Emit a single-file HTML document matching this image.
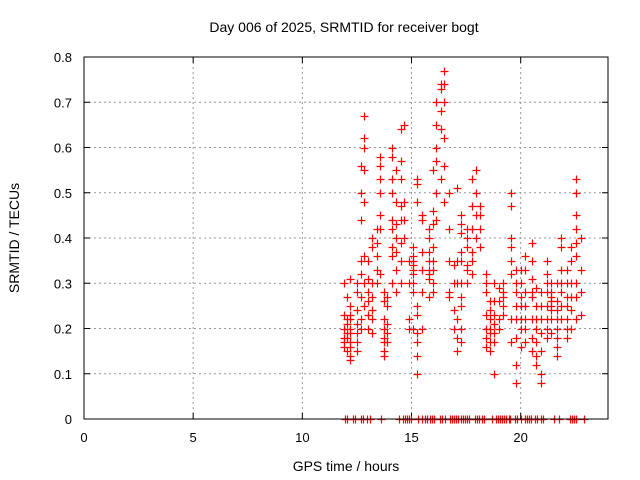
<!DOCTYPE html>
<html><head><meta charset="utf-8"><style>
body{margin:0;background:#fff}
svg{display:block;font-family:"Liberation Sans",sans-serif}
</style></head><body>
<svg id="chart" width="640" height="480">
<text x="344" y="32" text-anchor="middle" font-size="14">Day 006 of 2025, SRMTID for receiver bogt</text>
<text x="346" y="471" text-anchor="middle" font-size="14">GPS time / hours</text>
<text transform="translate(19,238) rotate(-90)" text-anchor="middle" font-size="14">SRMTID / TECUs</text>
<g id="grid"></g>
<g id="ticks"></g>
<g id="marks"></g>
<rect x="84" y="57" width="524" height="362" fill="none" stroke="#000" stroke-width="1"/>
</svg>
<script>
const xTicks = [0, 5, 10, 15, 20];
const yTicks = [0, 0.1, 0.2, 0.3, 0.4, 0.5, 0.6, 0.7, 0.8];
const yTickLabels = ["0", "0.1", "0.2", "0.3", "0.4", "0.5", "0.6", "0.7", "0.8"];
const hours = [11.92,12.05,12.2,12.5,12.7,12.83,13.0,13.2,13.4,13.55,13.75,13.9,14.1,14.3,14.5,14.65,14.9,15.05,15.25,15.5,15.8,16.0,16.1,16.35,16.5,16.7,16.95,17.1,17.25,17.55,17.75,17.95,18.15,18.4,18.6,18.8,19.0,19.2,19.55,19.8,20.0,20.2,20.5,20.7,20.95,21.2,21.4,21.65,21.85,22.1,22.3,22.55,22.75];
const values = [
[0.30,0.23,0.2,0.18,0.17,0.16],
[0.27,0.22,0.21,0.19,0.18,0.15],
[0.31,0.25,0.22,0.2,0.17,0.14,0.13,0.16,0.19,0.23],
[0.3,0.28,0.24,0.21,0.19,0.17,0.15],
[0.56,0.5,0.44,0.35,0.32,0.27,0.22,0.2],
[0.67,0.62,0.6,0.55,0.48,0.36,0.3,0.25],
[0.35,0.31,0.28,0.26,0.23,0.2],
[0.4,0.38,0.3,0.27,0.24,0.22,0.19],
[0.42,0.39,0.36,0.33,0.3],
[0.58,0.56,0.53,0.5,0.45,0.42,0.32],
[0.28,0.26,0.22,0.2,0.18,0.17,0.15,0.14],
[0.27,0.25,0.21,0.19,0.17],
[0.6,0.58,0.53,0.5,0.44,0.42,0.38,0.36,0.3],
[0.55,0.48,0.43,0.4,0.37,0.33,0.28],
[0.64,0.57,0.53,0.47,0.44,0.39,0.35,0.3],
[0.65,0.48,0.44,0.4],
[0.35,0.3,0.22,0.2],
[0.38,0.36,0.35,0.34,0.33,0.32,0.3,0.28,0.2],
[0.53,0.52,0.48,0.25,0.23,0.19,0.17,0.1,0.14],
[0.45,0.44,0.37,0.33,0.28,0.2],
[0.42,0.4,0.37,0.35,0.32,0.33,0.31,0.27],
[0.55,0.46,0.43,0.38,0.35,0.33,0.3,0.28],
[0.7,0.65,0.6,0.57,0.5,0.44],
[0.74,0.73,0.68,0.64,0.53],
[0.77,0.74,0.7,0.62,0.56,0.48],
[0.5,0.42,0.35,0.28,0.27],
[0.34,0.3,0.24,0.2],
[0.51,0.35,0.3,0.22,0.18,0.15],
[0.45,0.43,0.41,0.37,0.35,0.3,0.27,0.25,0.2,0.17],
[0.42,0.4,0.38,0.34,0.33,0.3],
[0.53,0.47,0.42,0.37,0.35,0.32],
[0.55,0.5,0.45,0.4],
[0.47,0.45,0.42,0.38],
[0.32,0.3,0.28,0.23,0.2,0.18,0.16],
[0.26,0.24,0.22,0.2,0.19,0.17,0.15],
[0.3,0.26,0.23,0.21,0.19,0.17,0.1],
[0.29,0.26,0.22,0.2],
[0.3,0.28,0.27,0.25,0.23],
[0.5,0.47,0.4,0.38,0.35,0.32,0.22,0.17],
[0.33,0.3,0.28,0.25,0.22,0.18,0.12,0.08],
[0.33,0.3,0.27,0.25,0.22,0.2,0.16],
[0.36,0.33,0.28,0.25,0.22,0.2,0.17],
[0.39,0.35,0.31,0.28,0.27,0.22,0.18,0.15],
[0.29,0.25,0.22,0.2,0.17,0.14,0.12],
[0.28,0.25,0.22,0.19,0.15,0.1,0.08],
[0.35,0.32,0.3,0.28,0.25,0.22,0.2,0.18],
[0.3,0.28,0.27,0.26,0.25,0.24,0.22,0.19],
[0.3,0.26,0.24,0.22,0.2,0.18,0.16,0.14],
[0.4,0.38,0.33,0.3,0.28,0.25,0.22],
[0.33,0.3,0.27,0.25,0.22,0.2,0.18],
[0.38,0.35,0.3,0.27,0.24,0.2],
[0.53,0.5,0.45,0.42,0.39,0.36,0.3,0.27,0.22],
[0.4,0.33,0.28,0.23]
];
const zeroHours = [11.95,12.05,12.3,12.4,12.69,12.78,12.98,13.08,13.62,14.43,14.6,14.7,14.8,14.9,14.98,15.3,15.5,15.6,15.7,15.85,15.95,16.05,16.3,16.38,16.52,16.75,16.85,16.95,17.05,17.15,17.25,17.35,17.45,17.55,17.63,17.9,18.0,18.1,18.22,18.32,18.69,18.85,18.95,19.05,19.15,19.25,19.35,19.45,19.52,19.75,19.85,20.02,20.2,20.29,20.38,20.47,20.66,20.75,20.93,21.02,21.53,21.76,22.25,22.35,22.45,22.52,22.92];

const NS = "http://www.w3.org/2000/svg";
const X0 = 84, X1 = 608, Y0 = 419, Y1 = 57;
function xs(h){ return X0 + h * (X1 - X0) / 24; }
function ys(v){ return Y0 - v * (Y0 - Y1) / 0.8; }
function mk(tag, attrs, parent){ const e = document.createElementNS(NS, tag); for (const k in attrs) e.setAttribute(k, attrs[k]); parent.appendChild(e); return e; }
const grid = document.getElementById('grid'), ticks = document.getElementById('ticks'), marks = document.getElementById('marks');

xTicks.forEach(t => {
  const x = xs(t);
  if (t > 0) {
    const g = mk('line', {x1:x, y1:Y1, x2:x, y2:Y0, stroke:'#999', 'stroke-dasharray':'2,3'}, grid);
    
    
  }
  mk('line', {x1:x, y1:Y0, x2:x, y2:Y0-6, stroke:'#000'}, ticks);
  mk('line', {x1:x, y1:Y1, x2:x, y2:Y1+6, stroke:'#000'}, ticks);
  const lb = mk('text', {x:x, y:442, 'text-anchor':'middle', 'font-size':'13'}, ticks);
  lb.textContent = t;
  
  
});
yTicks.forEach((t, i) => {
  const y = ys(t);
  if (t > 0 && t < 0.8) {
    const g = mk('line', {x1:X0, y1:y, x2:X1, y2:y, stroke:'#999', 'stroke-dasharray':'2,3'}, grid);
    
    
  }
  mk('line', {x1:X0, y1:y, x2:X0+6, y2:y, stroke:'#000'}, ticks);
  mk('line', {x1:X1, y1:y, x2:X1-6, y2:y, stroke:'#000'}, ticks);
  const lb = mk('text', {x:72, y:y+5, 'text-anchor':'end', 'font-size':'13'}, ticks);
  lb.textContent = yTickLabels[i];
  
  
});
function plus(h, v){
  const x = Math.round(xs(h)) + 0.5, y = Math.round(ys(v)) + 0.5;
  const p = mk('path', {d:`M${x-4},${y}H${x+4}M${x},${y-4}V${y+4}`, stroke:'#f00', 'stroke-width':'1.2', fill:'none'}, marks);
  
  
}
hours.forEach((h, i) => values[i].forEach(v => plus(h, v)));
zeroHours.forEach(h => plus(h, 0));
</script>
</body></html>
